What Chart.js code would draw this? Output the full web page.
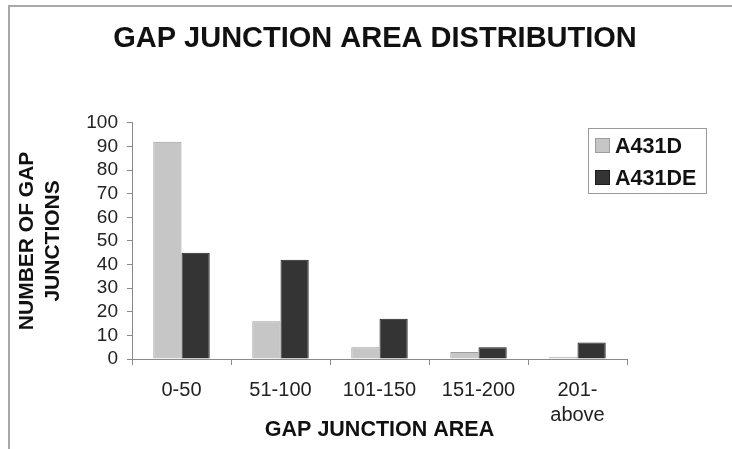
<!DOCTYPE html>
<html>
<head>
<meta charset="utf-8">
<script src="https://cdn.jsdelivr.net/npm/chart.js@4.4.1/dist/chart.umd.min.js"></script>
<style>
	html, body { margin: 0; padding: 0; background: #fff; }
	#wrap { position: relative; width: 732px; height: 449px; overflow: hidden; }
	#frame { position: absolute; left: 8px; top: 5px; width: 740px; height: 460px; border-top: 2px solid #a8a8a8; border-left: 2px solid #a8a8a8; box-sizing: border-box; }
	canvas { position: absolute; left: 0; top: 0; }
</style>
</head>
<body>
<div id="wrap">
	<div id="frame"></div>
	<canvas id="gap-chart" width="732" height="449"></canvas>
</div>
<script>
const categories = ['0-50', '51-100', '101-150', '151-200', ['201-', 'above']]
const a431d = [92, 16, 5, 3, 1]
const a431de = [45, 42, 17, 5, 7]
const yTicks = { min: 0, max: 100, step: 10 }

const FONT = '"Liberation Sans", Arial, sans-serif'

// legend drawn as a box inside the plot, top right
const boxLegend = {
	id: 'boxLegend',
	afterDraw(chart) {
		const ctx = chart.ctx
		ctx.save()
		ctx.fillStyle = '#fff'
		ctx.fillRect(588, 128, 118, 65)
		ctx.strokeStyle = '#9a9a9a'
		ctx.lineWidth = 1
		ctx.strokeRect(588.5, 128.5, 118, 65)
		chart.data.datasets.forEach((ds, i) => {
			const cy = 146 + i * 32
			ctx.fillStyle = ds.backgroundColor
			ctx.fillRect(595, cy - 8, 15, 15)
			ctx.strokeStyle = ds.borderColor
			ctx.strokeRect(595.5, cy - 7.5, 14, 14)
			ctx.fillStyle = '#111'
			ctx.font = 'bold 21.5px ' + FONT
			ctx.textBaseline = 'middle'
			ctx.fillText(ds.label, 615, cy + 1)
		})
		ctx.restore()
	}
}

const ctx = document.getElementById('gap-chart')
new Chart(ctx, {
	type: 'bar',
	data: {
		labels: categories,
		datasets: [{
			label: 'A431D',
			data: a431d,
			backgroundColor: '#c6c6c6',
			borderColor: '#9c9c9c',
			borderWidth: 1
		},
		{
			label: 'A431DE',
			data: a431de,
			backgroundColor: '#343434',
			borderColor: '#1e1e1e',
			borderWidth: 1
		}]
	},
	options: {
		responsive: false,
		animation: false,
		events: [],
		layout: { padding: { left: 18, right: 0, top: 0, bottom: 0 } },
		datasets: {
			bar: { categoryPercentage: 0.57, barPercentage: 1 }
		},
		scales: {
			x: {
				grid: { drawOnChartArea: false, tickLength: 6, color: '#8a8a8a' },
				border: { color: '#8a8a8a', width: 1 },
				ticks: {
					color: '#222',
					padding: 13,
					font: { family: FONT, size: 20, lineHeight: 1.25 },
					maxRotation: 0,
					autoSkip: false
				},
				title: {
					display: true,
					text: 'GAP JUNCTION AREA',
					color: '#111',
					font: { family: FONT, size: 21.5, weight: 'bold', lineHeight: 1.2 },
					padding: { top: 0, bottom: 6 }
				},
				afterFit: s => { s.height = 90 }
			},
			y: {
				min: yTicks.min,
				max: yTicks.max,
				grid: { drawOnChartArea: false, tickLength: 5, color: '#8a8a8a' },
				border: { color: '#8a8a8a', width: 1 },
				ticks: {
					stepSize: yTicks.step,
					autoSkip: false,
					color: '#222',
					padding: 9,
					font: { family: FONT, size: 19 }
				},
				title: {
					display: true,
					text: ['NUMBER OF GAP', 'JUNCTIONS'],
					color: '#111',
					font: { family: FONT, size: 21, weight: 'bold', lineHeight: 1.25 },
					padding: { top: -4, bottom: 0 }
				},
				afterFit: s => { s.width = 114 }
			},
			spacer: {
				type: 'linear',
				position: 'right',
				grid: { display: false },
				border: { display: false },
				ticks: { display: false },
				afterFit: s => { s.width = 105 }
			}
		},
		plugins: {
			legend: { display: false },
			tooltip: { enabled: false },
			title: {
				display: true,
				text: 'GAP JUNCTION AREA DISTRIBUTION',
				color: '#111',
				font: { family: FONT, size: 29, weight: 'bold', lineHeight: 1.2 },
				padding: { top: 22, bottom: 66 }
			}
		}
	},
	plugins: [boxLegend]
})
</script>
</body>
</html>
